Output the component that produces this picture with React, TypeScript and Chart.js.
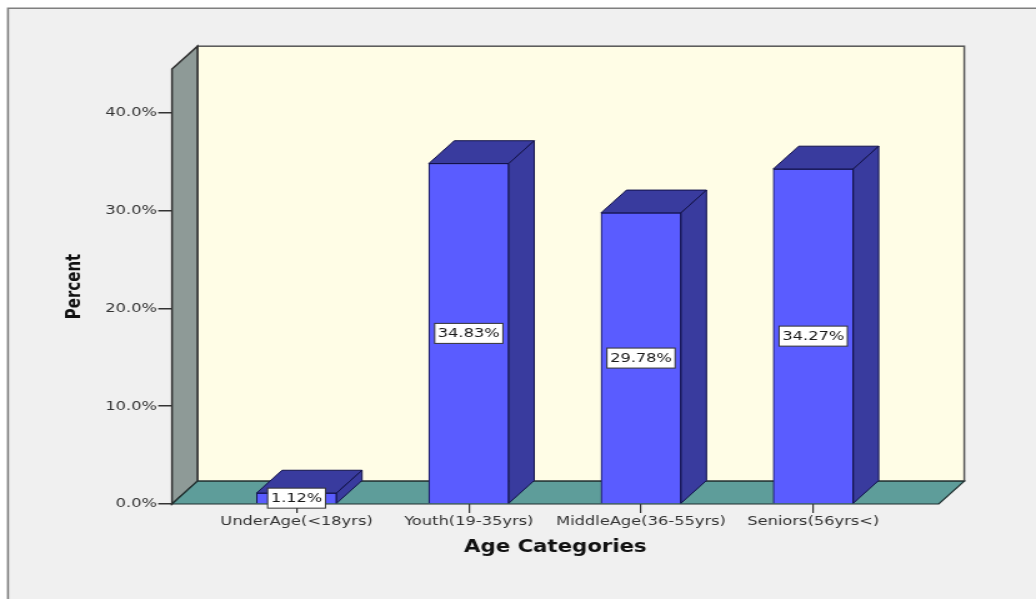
import React, { useEffect, useRef } from "react";
import { Chart, registerables } from "chart.js";

Chart.register(...registerables);

const categories = ["UnderAge(<18yrs)", "Youth(19-35yrs)", "MiddleAge(36-55yrs)", "Seniors(56yrs<)"];
const percents = [1.12, 34.83, 29.78, 34.27];
const yTickValues = [0, 10, 20, 30, 40];
const xTitle = "Age Categories";
const yTitle = "Percent";

// canvas is drawn at internal width and stretched horizontally by CSS (the reference is widened)
const CANVAS_W = 829;
const CANVAS_H = 599;
const CSS_W = 1036;
const DX = 20.4; // 3D depth offset (internal px)
const DY = 22.8;

const FONT = "'DejaVu Sans', 'Liberation Sans', sans-serif";

const threeD = {
  id: "threeD",
  beforeDraw(chart: any) {
    const { ctx, width, height, chartArea: a } = chart;
    ctx.save();
    ctx.fillStyle = "#ffffff";
    ctx.fillRect(0, 0, width, height);
    ctx.fillStyle = "#f0f0f0";
    ctx.fillRect(6.4, 8, width, height);
    ctx.strokeStyle = "#7f7f7f";
    ctx.lineWidth = 1.6;
    ctx.beginPath();
    ctx.moveTo(6.4, height + 2);
    ctx.lineTo(6.4, 8.3);
    ctx.lineTo(width + 2, 8.3);
    ctx.stroke();

    const L = a.left, R = a.right, T = a.top, B = a.bottom;
    // back wall
    ctx.fillStyle = "#fffde6";
    ctx.fillRect(L + DX, T - DY, R - L, B - T);
    ctx.strokeStyle = "#555555";
    ctx.lineWidth = 1.5;
    ctx.strokeRect(L + DX, T - DY, R - L, B - T);
    // left wall
    ctx.beginPath();
    ctx.moveTo(L, B);
    ctx.lineTo(L, T);
    ctx.lineTo(L + DX, T - DY);
    ctx.lineTo(L + DX, B - DY);
    ctx.closePath();
    ctx.fillStyle = "#8e9a97";
    ctx.fill();
    ctx.strokeStyle = "#2e2e2e";
    ctx.lineWidth = 1.5;
    ctx.stroke();
    // floor
    ctx.beginPath();
    ctx.moveTo(L, B);
    ctx.lineTo(R, B);
    ctx.lineTo(R + DX, B - DY);
    ctx.lineTo(L + DX, B - DY);
    ctx.closePath();
    ctx.fillStyle = "#5e9d9a";
    ctx.fill();
    ctx.strokeStyle = "#1e2e2e";
    ctx.lineWidth = 1.2;
    ctx.stroke();
    ctx.restore();
  },
  afterDatasetsDraw(chart: any) {
    const { ctx } = chart;
    const meta = chart.getDatasetMeta(0);
    ctx.save();
    meta.data.forEach((bar: any) => {
      const { x, y, base, width } = bar.getProps(["x", "y", "base", "width"], true);
      const x0 = x - width / 2;
      const x1 = x + width / 2;
      ctx.fillStyle = "#393b9e";
      ctx.strokeStyle = "#12124a";
      ctx.lineWidth = 1;
      // top
      ctx.beginPath();
      ctx.moveTo(x0, y);
      ctx.lineTo(x0 + DX, y - DY);
      ctx.lineTo(x1 + DX, y - DY);
      ctx.lineTo(x1, y);
      ctx.closePath();
      ctx.fill();
      ctx.stroke();
      // side
      ctx.beginPath();
      ctx.moveTo(x1, y);
      ctx.lineTo(x1 + DX, y - DY);
      ctx.lineTo(x1 + DX, base - DY);
      ctx.lineTo(x1, base);
      ctx.closePath();
      ctx.fill();
      ctx.stroke();
    });
    // value labels
    ctx.font = `13px ${FONT}`;
    ctx.textAlign = "center";
    ctx.textBaseline = "middle";
    meta.data.forEach((bar: any, i: number) => {
      const { x, y, base } = bar.getProps(["x", "y", "base"], true);
      const text = percents[i].toFixed(2) + "%";
      const cy = (y + base) / 2;
      const w = ctx.measureText(text).width + 5;
      const h = 20;
      ctx.fillStyle = "#ffffff";
      ctx.fillRect(x - w / 2, cy - h / 2, w, h);
      ctx.strokeStyle = "#333333";
      ctx.lineWidth = 1;
      ctx.strokeRect(x - w / 2, cy - h / 2, w, h);
      ctx.fillStyle = "#1a1a1a";
      ctx.fillText(text, x, cy + 0.5);
    });
    ctx.restore();
  },
};

export default function App() {
  const canvasRef = useRef<HTMLCanvasElement | null>(null);

  useEffect(() => {
    const canvas = canvasRef.current;
    if (!canvas) return;
    const chart = new Chart(canvas, {
      type: "bar",
      data: {
        datasets: [
          {
            data: categories.map((_, i) => ({ x: i, y: percents[i] })),
            backgroundColor: "#5a5cff",
            borderColor: "#12124a",
            borderWidth: 1,
            barThickness: 64,
          },
        ],
      },
      options: {
        animation: false,
        responsive: false,
        devicePixelRatio: 1,
        layout: { padding: { left: 0, right: 77.8, top: 69, bottom: 0 } },
        plugins: { legend: { display: false }, tooltip: { enabled: false } },
        scales: {
          x: {
            type: "linear",
            min: -0.7235,
            max: 3.729,
            offset: false,
            afterBuildTicks: (s: any) => {
              s.ticks = categories.map((_, i) => ({ value: i }));
            },
            afterFit: (s: any) => {
              s.height = 95;
            },
            ticks: {
              autoSkip: false,
              maxRotation: 0,
              padding: 1,
              color: "#333333",
              font: { family: FONT, size: 13 },
              callback: (v: any) => categories[v as number],
            },
            grid: {
              offset: false,
              drawOnChartArea: false,
              drawTicks: true,
              tickLength: 9,
              color: "#333333",
              lineWidth: 1.2,
            },
            border: { display: false },
            title: {
              display: true,
              text: xTitle,
              color: "#111111",
              font: { family: FONT, size: 17, weight: "bold" },
              padding: { top: 0, bottom: 40.8 },
            },
          },
          y: {
            min: 0,
            max: 44.5,
            afterBuildTicks: (s: any) => {
              s.ticks = yTickValues.map((v) => ({ value: v }));
            },
            afterFit: (s: any) => {
              s.width = 137.6;
            },
            ticks: {
              padding: 1,
              color: "#333333",
              font: { family: FONT, size: 13 },
              callback: (v: any) => Number(v).toFixed(1) + "%",
            },
            grid: { drawOnChartArea: false, drawTicks: true, tickLength: 11, color: "#333333", lineWidth: 1.5 },
            border: { display: false },
            title: {
              display: true,
              text: yTitle,
              color: "#111111",
              font: { family: FONT, size: 15, weight: "bold" },
              padding: { top: 51.4, bottom: 0 },
            },
          },
        },
      } as any,
      plugins: [threeD],
    });
    return () => chart.destroy();
  }, []);

  return (
    <div style={{ position: "fixed", left: 0, top: 0, width: CSS_W, height: CANVAS_H, overflow: "hidden" }}>
      <canvas
        ref={canvasRef}
        width={CANVAS_W}
        height={CANVAS_H}
        style={{ width: `${CSS_W}px`, height: `${CANVAS_H}px`, display: "block" }}
      />
    </div>
  );
}
